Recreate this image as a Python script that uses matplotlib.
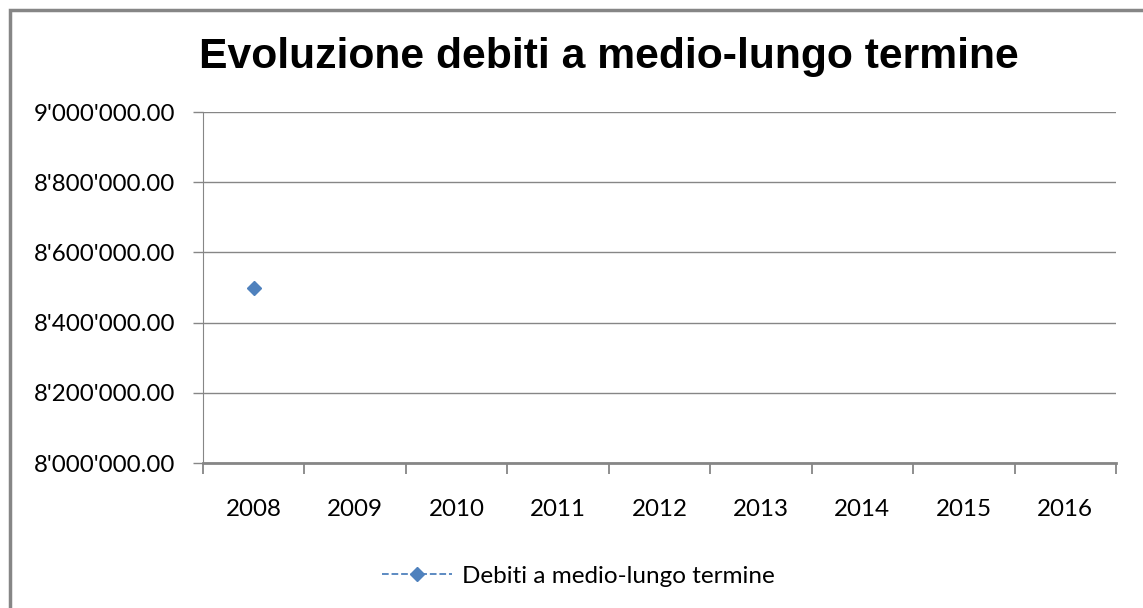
import matplotlib.pyplot as plt
from matplotlib.ticker import FuncFormatter
from matplotlib.patches import Rectangle

# Dati
anni = ['2008', '2009', '2010', '2011', '2012', '2013', '2014', '2015', '2016']
debiti = [8500000, None, None, None, None, None, None, None, None]

titolo = 'Evoluzione debiti a medio-lungo termine'
etichetta = 'Debiti a medio-lungo termine'

W, H = 1143, 608
fig = plt.figure(figsize=(W / 100, H / 100), dpi=100)
ax = fig.add_axes([203 / W, 1 - 463 / H, (1116 - 203) / W, (463 - 112) / H])

# bordo grigio del grafico
fig.patches.append(Rectangle((10 / W, -0.05), 1.1, 1 - 10 / H + 0.05,
                             transform=fig.transFigure, fill=False,
                             edgecolor='#868686', linewidth=2.5))

x = list(range(len(anni)))
xs = [i for i, v in zip(x, debiti) if v is not None]
ys = [v for v in debiti if v is not None]
ax.plot(xs, ys, linestyle='--', color='#4f81bd', marker='D', markersize=7,
        linewidth=1.3, label=etichetta)

ax.set_xlim(-0.5, len(anni) - 0.5)
ax.set_ylim(8000000, 9000000)
ax.set_yticks(range(8000000, 9000001, 200000))
ax.yaxis.set_major_formatter(FuncFormatter(lambda v, p: f"{v:,.2f}".replace(',', "'")))
ax.set_xticks(x)
ax.set_xticklabels(anni)
ax.set_xticks([i + 0.5 for i in range(-1, len(anni))], minor=True)
ax.tick_params(axis='x', which='major', length=0, pad=26)
ax.tick_params(axis='x', which='minor', length=8, color='#868686', width=1.3)
ax.tick_params(axis='y', length=7, color='#868686', width=1, pad=13)

for lab in ax.get_xticklabels() + ax.get_yticklabels():
    lab.set_family('Lato')
    lab.set_fontsize(17.4)
    lab.set_color('#000000')

ax.grid(axis='y', color='#868686', linewidth=1)
ax.set_axisbelow(True)
for s in ['top', 'right']:
    ax.spines[s].set_visible(False)
ax.spines['left'].set_color('#868686')
ax.spines['bottom'].set_color('#868686')
ax.spines['bottom'].set_linewidth(2)

fig.text(609 / W, 1 - 57 / H, titolo, ha='center', va='center',
         fontsize=30.7, fontweight='bold', family='Liberation Sans')

fig.legend(loc='center', bbox_to_anchor=(578 / W, 1 - 576 / H), frameon=False,
           prop={'family': 'Lato', 'size': 17.5}, handlelength=2.9, handletextpad=0.4)

plt.savefig('out.png', dpi=100)
